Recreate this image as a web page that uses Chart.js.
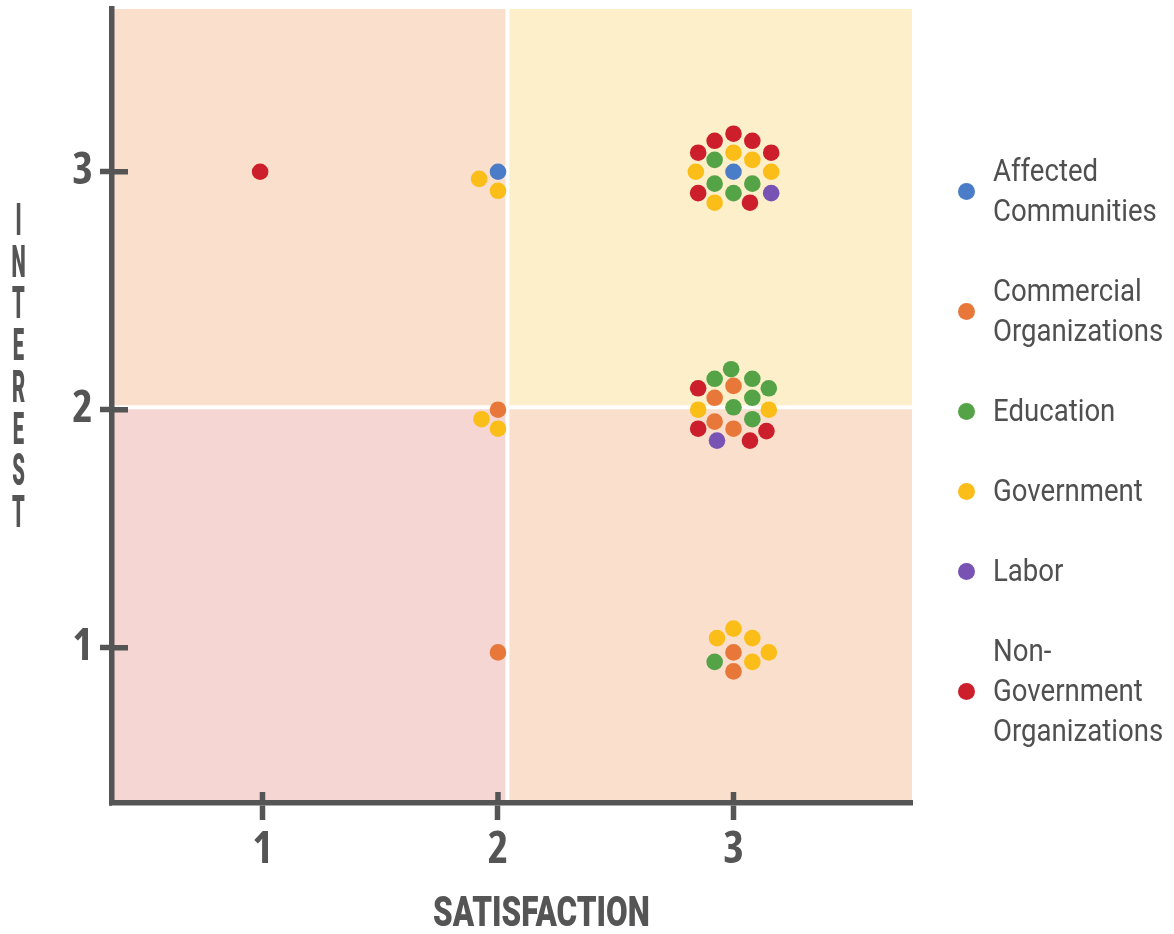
<!DOCTYPE html>
<html>
<head>
<meta charset="utf-8">
<title>Interest vs Satisfaction</title>
<script src="https://cdn.jsdelivr.net/npm/chart.js@4.4.1/dist/chart.umd.min.js"></script>
<style>
    body { margin: 0; background: #fff; }
    #wrap { position: relative; width: 1174px; height: 934px; }
    #y-title {
        position: absolute; left: 0; top: 199px; width: 37px;
        font: 900 45px/41.7px Roboto, sans-serif; color: #555;
        text-align: center;
    }
    #y-title div { transform: scaleX(0.45); transform-origin: center; }
    #x-title {
        position: absolute; top: 891px; left: 0;
        font: 900 42px/42px Roboto, sans-serif; color: #555;
        white-space: nowrap; transform-origin: left top;
    }
    #legend { position: absolute; left: 958px; top: 151px; margin: 0; padding: 0; list-style: none; }
    #legend li { display: flex; align-items: center; margin-bottom: 40px; }
    #legend .dot { width: 17px; height: 17px; border-radius: 50%; flex: none; }
    #legend .txt {
        margin-left: 18px; font: 400 31px/40px Roboto, sans-serif; color: #505050;
        white-space: nowrap; transform: scaleX(0.89); transform-origin: left center;
    }
</style>
</head>
<body>
<div id="wrap">
    <canvas id="chart"></canvas>
    <div id="y-title"></div>
    <div id="x-title">SATISFACTION</div>
    <ul id="legend"></ul>
</div>
<script>
// sectors, in legend order
const SECTORS = [
    'Affected Communities',
    'Commercial Organizations',
    'Education',
    'Government',
    'Labor',
    'Non-Government Organizations',
];
const LEGEND_LINES = [
    ['Affected', 'Communities'],
    ['Commercial', 'Organizations'],
    ['Education'],
    ['Government'],
    ['Labor'],
    ['Non-', 'Government', 'Organizations'],
];
const SECTOR_COLORS = ['#4a7cc8', '#e8783a', '#55a347', '#fbbd18', '#7853b3', '#cc1f2b'];

const X_TICKS = [1, 2, 3];
const Y_TICKS = [1, 2, 3];
const X_TITLE = 'SATISFACTION';
const Y_TITLE = 'INTEREST';

// responses, jittered around the integer scores as they sit in the picture
const affectedSat = [2.00, 3.00];
const affectedInt = [3.00, 3.00];

const commercialSat = [3.00, 2.92, 2.92, 3.00, 3.00, 3.00, 2.00, 2.00];
const commercialInt = [2.10, 2.05, 1.95, 1.92, 0.98, 0.90, 2.00, 0.98];

const educationSat = [2.92, 2.92, 3.08, 3.00, 2.99, 2.92, 3.08, 3.15, 3.08, 3.00, 3.08, 2.92];
const educationInt = [3.05, 2.95, 2.95, 2.91, 2.17, 2.13, 2.13, 2.09, 2.05, 2.01, 1.96, 0.94];

const governmentSat = [3.00, 3.08, 2.84, 3.16, 2.92, 2.85, 3.15, 3.00, 2.93, 3.08, 3.15, 3.08, 1.92, 2.00, 1.93, 2.00];
const governmentInt = [3.08, 3.05, 3.00, 3.00, 2.87, 2.00, 2.00, 1.08, 1.04, 1.04, 0.98, 0.94, 2.97, 2.92, 1.96, 1.92];

const laborSat = [3.16, 2.93];
const laborInt = [2.91, 1.87];

const ngoSat = [3.00, 2.92, 3.08, 2.85, 3.16, 2.85, 3.07, 2.85, 2.85, 3.14, 3.07, 0.99];
const ngoInt = [3.16, 3.13, 3.13, 3.08, 3.08, 2.91, 2.87, 2.09, 1.92, 1.91, 1.87, 3.00];

const SAT_SERIES = [affectedSat, commercialSat, educationSat, governmentSat, laborSat, ngoSat];
const INT_SERIES = [affectedInt, commercialInt, educationInt, governmentInt, laborInt, ngoInt];

// quadrant split and fills
const X_SPLIT = 2.04;
const Y_SPLIT = 2.01;
const QUADRANT_COLORS = {
    topLeft: '#f9dfcc',
    topRight: '#fcefc9',
    bottomLeft: '#f5d6d3',
    bottomRight: '#f9dfcc',
};

const AXIS_COLOR = '#555555';
const AXIS_WIDTH = 5.5;
const tickFont = {
    family: "'Open Sans', 'DejaVu Sans', sans-serif",
    size: 44,
    weight: 'bold condensed',
    lineHeight: 1,
};

const quadrants = {
    id: 'quadrants',
    beforeDraw(chart) {
        const { ctx, chartArea: a, scales: { x, y } } = chart;
        const sx = x.getPixelForValue(X_SPLIT);
        const sy = y.getPixelForValue(Y_SPLIT);
        ctx.save();
        ctx.fillStyle = QUADRANT_COLORS.topLeft;
        ctx.fillRect(a.left, a.top, sx - a.left, sy - a.top);
        ctx.fillStyle = QUADRANT_COLORS.topRight;
        ctx.fillRect(sx, a.top, a.right - sx, sy - a.top);
        ctx.fillStyle = QUADRANT_COLORS.bottomLeft;
        ctx.fillRect(a.left, sy, sx - a.left, a.bottom - sy);
        ctx.fillStyle = QUADRANT_COLORS.bottomRight;
        ctx.fillRect(sx, sy, a.right - sx, a.bottom - sy);
        ctx.strokeStyle = '#ffffff';
        ctx.lineWidth = 4;
        ctx.beginPath();
        ctx.moveTo(sx, a.top);
        ctx.lineTo(sx, a.bottom);
        ctx.moveTo(a.left, sy);
        ctx.lineTo(a.right, sy);
        ctx.stroke();
        ctx.restore();
    },
};

// tick marks cross the axis line, so add the inner half
const innerTicks = {
    id: 'innerTicks',
    beforeDatasetsDraw(chart) {
        const { ctx, chartArea: a, scales: { x, y } } = chart;
        ctx.save();
        ctx.strokeStyle = AXIS_COLOR;
        ctx.lineWidth = AXIS_WIDTH;
        ctx.beginPath();
        y.ticks.forEach((t) => {
            const py = y.getPixelForValue(t.value);
            ctx.moveTo(a.left, py);
            ctx.lineTo(a.left + 16, py);
        });
        x.ticks.forEach((t) => {
            const px = x.getPixelForValue(t.value);
            ctx.moveTo(px, a.bottom);
            ctx.lineTo(px, a.bottom - 11);
        });
        ctx.stroke();
        ctx.fillStyle = AXIS_COLOR;
        ctx.fillRect(a.left - AXIS_WIDTH / 2, a.bottom, AXIS_WIDTH / 2, AXIS_WIDTH / 2);
        ctx.restore();
    },
};

new Chart(document.getElementById('chart'), {
    type: 'scatter',
    data: {
        datasets: SECTORS.map((name, i) => ({
            label: name,
            data: SAT_SERIES[i].map((s, j) => ({ x: s, y: INT_SERIES[i][j] })),
            backgroundColor: SECTOR_COLORS[i],
            borderWidth: 0,
            pointRadius: 8.3,
            pointHoverRadius: 9,
        })),
    },
    options: {
        responsive: true,
        maintainAspectRatio: false,
        animation: false,
        layout: { padding: { left: 0, top: 7, right: 262, bottom: 0 } },
        plugins: {
            legend: { display: false },
            tooltip: {
                callbacks: {
                    label: (ctx) => `${ctx.dataset.label}: ${Math.round(ctx.parsed.x)}, ${Math.round(ctx.parsed.y)}`,
                },
            },
        },
        scales: {
            x: {
                type: 'linear',
                min: 0.361,
                max: 3.758,
                afterBuildTicks: (scale) => { scale.ticks = X_TICKS.map((v) => ({ value: v })); },
                afterFit: (scale) => {
                    scale.height = 131;
                    scale.paddingLeft = 0;
                    scale.paddingRight = 0;
                },
                grid: { drawOnChartArea: false, tickLength: 17, tickWidth: AXIS_WIDTH, tickColor: AXIS_COLOR },
                border: { color: AXIS_COLOR, width: AXIS_WIDTH },
                ticks: { font: tickFont, color: AXIS_COLOR, padding: 8, maxRotation: 0 },
            },
            y: {
                type: 'linear',
                min: 0.347,
                max: 3.684,
                afterBuildTicks: (scale) => { scale.ticks = Y_TICKS.map((v) => ({ value: v })); },
                afterFit: (scale) => {
                    scale.width = 112;
                    scale.paddingTop = 0;
                    scale.paddingBottom = 0;
                },
                grid: { drawOnChartArea: false, tickLength: 12, tickWidth: AXIS_WIDTH, tickColor: AXIS_COLOR },
                border: { color: AXIS_COLOR, width: AXIS_WIDTH },
                ticks: { font: tickFont, color: AXIS_COLOR, padding: 7 },
            },
        },
    },
    plugins: [quadrants, innerTicks],
});

// axis titles
const yTitle = document.getElementById('y-title');
Y_TITLE.split('').forEach((ch) => {
    const d = document.createElement('div');
    d.textContent = ch;
    yTitle.appendChild(d);
});

const xTitle = document.getElementById('x-title');
xTitle.textContent = X_TITLE;
const xTitleWidth = 217;
const xTitleCenter = 541;
const naturalW = xTitle.offsetWidth;
xTitle.style.left = (xTitleCenter - xTitleWidth / 2) + 'px';
xTitle.style.transform = `scaleX(${xTitleWidth / naturalW})`;

// legend
const legend = document.getElementById('legend');
SECTORS.forEach((name, i) => {
    const li = document.createElement('li');
    li.innerHTML = `<span class="dot" style="background:${SECTOR_COLORS[i]}"></span>` +
        `<span class="txt">${LEGEND_LINES[i].join('<br>')}</span>`;
    legend.appendChild(li);
});
</script>
</body>
</html>
